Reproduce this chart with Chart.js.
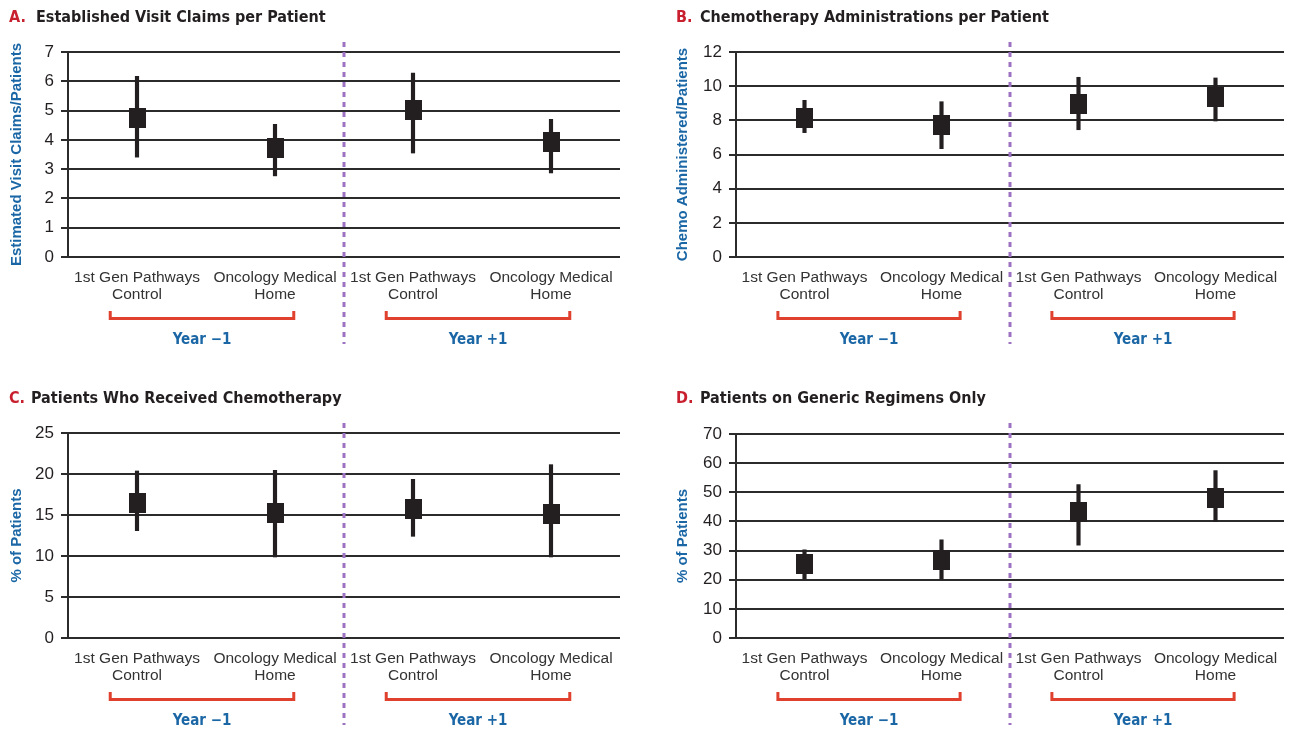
<!DOCTYPE html>
<html>
<head>
<meta charset="utf-8">
<script src="https://cdn.jsdelivr.net/npm/chart.js@4.4.1/dist/chart.umd.min.js"></script>
<style>
    body { margin: 0; background: #fff; width: 1301px; height: 744px; overflow: hidden; position: relative; }
    canvas { position: absolute; }
</style>
</head>
<body>
<canvas id="chartA" width="650" height="372" style="left:0;top:0"></canvas>
<canvas id="chartB" width="650" height="372" style="left:650px;top:0"></canvas>
<canvas id="chartC" width="650" height="372" style="left:0;top:381px"></canvas>
<canvas id="chartD" width="650" height="372" style="left:650px;top:381px"></canvas>
<script>
// x categories (same in every panel)
const categories = [
    ['1st Gen Pathways', 'Control'],
    ['Oncology Medical', 'Home'],
    ['1st Gen Pathways', 'Control'],
    ['Oncology Medical', 'Home']
];
const groupLabels = ['Year \u22121', 'Year +1'];

// A. Established visit claims per patient
const visitMean = [4.73, 3.72, 5.01, 3.92];
const visitLow = [3.41, 2.77, 3.55, 2.87];
const visitHigh = [6.17, 4.53, 6.28, 4.70];

// B. Chemotherapy administrations per patient
const chemoMean = [8.13, 7.72, 8.95, 9.36];
const chemoLow = [7.28, 6.34, 7.45, 7.96];
const chemoHigh = [9.17, 9.09, 10.52, 10.48];

// C. Patients who received chemotherapy (%)
const receivedMean = [16.52, 15.30, 15.79, 15.18];
const receivedLow = [13.09, 9.88, 12.40, 9.88];
const receivedHigh = [20.37, 20.45, 19.35, 21.14];

// D. Patients on generic regimens only (%)
const genericMean = [25.52, 26.89, 43.22, 48.13];
const genericLow = [20.33, 20.33, 31.86, 39.97];
const genericHigh = [30.26, 33.69, 52.64, 57.44];

// y axis ranges
const visitAxis = { max: 7, step: 1 };
const chemoAxis = { max: 12, step: 2 };
const receivedAxis = { max: 25, step: 5 };
const genericAxis = { max: 70, step: 10 };

const INK = '#231f20';
const RED = '#c8202f';
const BRACKET = '#e0412f';
const BLUE = '#1b67a6';
const PURPLE = '#9d72c2';
const NARROW = "'DejaVu Sans Condensed', 'Liberation Sans Narrow', Arial, sans-serif";
const SANS = "'Liberation Sans', Arial, sans-serif";

// the mean marker: a small filled block
const marker = document.createElement('canvas');
marker.width = 17;
marker.height = 20;
const mctx = marker.getContext('2d');
mctx.fillStyle = INK;
mctx.fillRect(0, 0, 17, 20);

// titles, divider, brackets and year labels
const panelDecor = {
    id: 'panelDecor',
    afterDraw(chart, args, opts) {
        const ctx = chart.ctx;
        const xs = chart.scales.x;
        const c = categories.map((_, i) => xs.getPixelForValue(i));
        ctx.save();

        ctx.textBaseline = 'middle';
        ctx.textAlign = 'left';
        ctx.font = 'bold 16px ' + NARROW;
        ctx.fillStyle = RED;
        ctx.fillText(opts.letter, opts.letterX, 18);
        ctx.fillStyle = INK;
        ctx.fillText(opts.title, opts.textX, 18);

        // dashed divider between the two years
        const mid = (c[1] + c[2]) / 2;
        ctx.strokeStyle = PURPLE;
        ctx.lineWidth = 3;
        ctx.setLineDash([5, 5]);
        ctx.beginPath();
        ctx.moveTo(mid, 42);
        ctx.lineTo(mid, 344);
        ctx.stroke();
        ctx.setLineDash([]);

        // brackets + year labels
        ctx.lineWidth = 3;
        ctx.strokeStyle = BRACKET;
        ctx.lineJoin = 'miter';
        ctx.font = 'bold 15px ' + NARROW;
        ctx.fillStyle = BLUE;
        ctx.textAlign = 'center';
        for (let g = 0; g < 2; g++) {
            const a = c[g * 2], b = c[g * 2 + 1];
            const center = (a + b) / 2 - 4;
            const half = (b - a) * 0.665;
            ctx.beginPath();
            ctx.moveTo(center - half, 311);
            ctx.lineTo(center - half, 318.5);
            ctx.lineTo(center + half, 318.5);
            ctx.lineTo(center + half, 311);
            ctx.stroke();
            ctx.fillText(groupLabels[g], center, 340.5);
        }
        ctx.restore();
    }
};

function makePanel(id, cfg) {
    const canvas = document.getElementById(id);
    return new Chart(canvas.getContext('2d'), {
        type: 'bar',
        data: {
            labels: categories,
            datasets: [{
                type: 'line',
                data: cfg.mean,
                showLine: false,
                pointStyle: marker,
                pointRadius: 10,
                order: 0
            }, {
                data: cfg.low.map((v, i) => [v, cfg.high[i]]),
                backgroundColor: INK,
                borderWidth: 0,
                barThickness: 3.5,
                order: 1
            }]
        },
        options: {
            responsive: false,
            animation: false,
            events: [],
            layout: {
                padding: { left: cfg.padLeft, right: cfg.padRight, top: cfg.padTop, bottom: 0 }
            },
            scales: {
                x: {
                    grid: { display: false, drawTicks: false },
                    border: { display: false },
                    ticks: {
                        color: '#333',
                        padding: 11.5,
                        maxRotation: 0,
                        autoSkip: false,
                        font: { family: SANS, size: 15.5, lineHeight: 1.14 }
                    },
                    afterFit: (scale) => { scale.height = 372 - 257; }
                },
                y: {
                    min: 0,
                    max: cfg.axis.max,
                    ticks: {
                        stepSize: cfg.axis.step,
                        color: INK,
                        padding: 7,
                        font: { family: SANS, size: 17 }
                    },
                    grid: { color: '#2b2b2b', lineWidth: 2, tickLength: 7 },
                    border: { color: '#2b2b2b', width: 2 },
                    title: {
                        display: true,
                        text: cfg.yTitle,
                        color: BLUE,
                        font: { family: SANS, size: 15, weight: 'bold' },
                        padding: { top: 3, bottom: 0 }
                    },
                    afterFit: (scale) => { scale.width = cfg.yWidth; }
                }
            },
            plugins: {
                legend: { display: false },
                tooltip: { enabled: false },
                panelDecor: {
                    letter: cfg.letter,
                    title: cfg.title,
                    letterX: cfg.letterX,
                    textX: cfg.textX
                }
            }
        },
        plugins: [panelDecor]
    });
}

document.addEventListener('DOMContentLoaded', () => {
    makePanel('chartA', {
        mean: visitMean, low: visitLow, high: visitHigh, axis: visitAxis,
        yTitle: 'Estimated Visit Claims/Patients',
        letter: 'A.', title: 'Established Visit Claims per Patient', letterX: 9, textX: 36,
        padLeft: 5, padRight: 30, padTop: 52, yWidth: 63
    });
    makePanel('chartB', {
        mean: chemoMean, low: chemoLow, high: chemoHigh, axis: chemoAxis,
        yTitle: 'Chemo Administered/Patients',
        letter: 'B.', title: 'Chemotherapy Administrations per Patient', letterX: 26, textX: 50,
        padLeft: 21, padRight: 16, padTop: 52, yWidth: 65
    });
    makePanel('chartC', {
        mean: receivedMean, low: receivedLow, high: receivedHigh, axis: receivedAxis,
        yTitle: '% of Patients',
        letter: 'C.', title: 'Patients Who Received Chemotherapy', letterX: 9, textX: 31,
        padLeft: 5, padRight: 30, padTop: 52, yWidth: 63
    });
    makePanel('chartD', {
        mean: genericMean, low: genericLow, high: genericHigh, axis: genericAxis,
        yTitle: '% of Patients',
        letter: 'D.', title: 'Patients on Generic Regimens Only', letterX: 26, textX: 50,
        padLeft: 21, padRight: 16, padTop: 53, yWidth: 65
    });
});
</script>
</body>
</html>
